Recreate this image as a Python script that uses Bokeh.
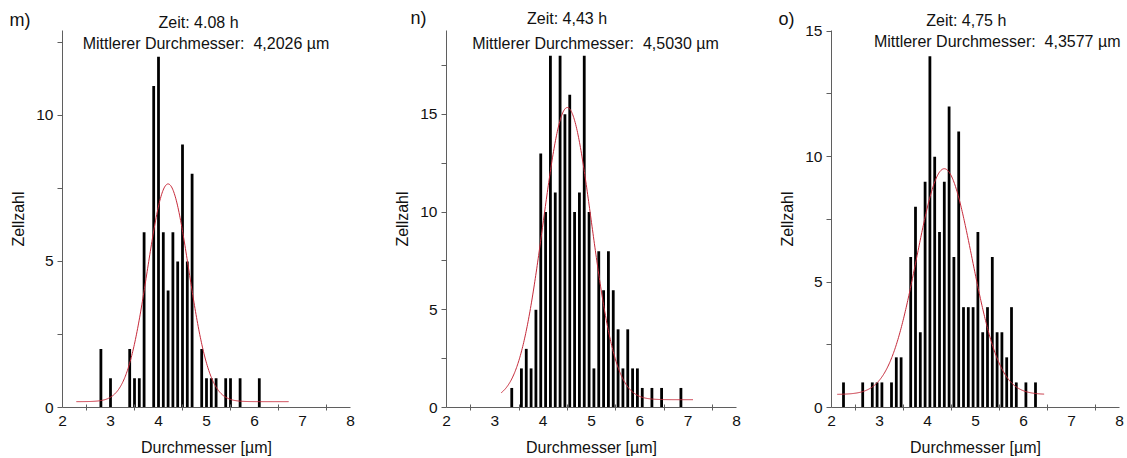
import numpy as np
from bokeh.plotting import figure
from bokeh.layouts import row
from bokeh.models import FixedTicker, Label, Range1d, ColumnDataSource
from bokeh.embed import file_html
from bokeh.resources import INLINE

# ---------------- data ----------------
panel_letters = ["m)", "n)", "o)"]
zeit_texts = ["Zeit: 4.08 h", "Zeit: 4,43 h", "Zeit: 4,75 h"]
mean_texts = ["Mittlerer Durchmesser:\u00a0 4,2026 \u00b5m",
              "Mittlerer Durchmesser:\u00a0 4,5030 \u00b5m",
              "Mittlerer Durchmesser:\u00a0 4,3577 \u00b5m"]
x_title = "Durchmesser [\u00b5m]"
y_title = "Zellzahl"

m_diam = [2.8, 3.0, 3.4, 3.5, 3.6, 3.7, 3.9, 4.0, 4.1, 4.2, 4.3, 4.4, 4.5, 4.6, 4.7,
          4.9, 5.0, 5.1, 5.2, 5.4, 5.5, 5.7, 6.1]
m_count = [2, 1, 2, 1, 1, 6, 11, 12, 6, 4, 6, 5, 9, 5, 8,
           2, 1, 1, 1, 1, 1, 1, 1]

n_diam = [3.35, 3.55, 3.65, 3.75, 3.85, 3.95, 4.05, 4.15, 4.25, 4.35, 4.45, 4.55, 4.65,
          4.75, 4.85, 4.95, 5.05, 5.15, 5.25, 5.35, 5.45, 5.55, 5.65, 5.75, 5.85, 5.95,
          6.05, 6.25, 6.45, 6.85]
n_count = [1, 2, 3, 2, 5, 13, 10, 18, 11, 18, 15, 16, 10,
           11, 18, 10, 2, 8, 6, 8, 6, 4, 2, 4, 2, 2,
           1, 1, 1, 1]

o_diam = [2.25, 2.65, 2.85, 2.95, 3.05, 3.25, 3.35, 3.45, 3.65, 3.75, 3.85, 3.95, 4.05,
          4.15, 4.25, 4.35, 4.45, 4.55, 4.65, 4.75, 4.85, 4.95, 5.05, 5.15, 5.25, 5.35,
          5.45, 5.55, 5.65, 5.75, 5.85, 6.05, 6.25]
o_count = [1, 1, 1, 1, 1, 1, 2, 2, 6, 8, 3, 9, 14,
           10, 7, 9, 12, 6, 11, 4, 4, 4, 7, 3, 4, 6,
           3, 3, 2, 4, 1, 1, 1]

# Gauss fit parameters: centre, sigma, amplitude, baseline, x start, x end
m_fit = [4.20, 0.43, 7.45, 0.20, 2.29, 6.71]
n_fit = [4.50, 0.50, 14.95, 0.40, 3.13, 7.10]
o_fit = [4.35, 0.575, 9.00, 0.52, 2.12, 6.43]

x_ticks = [2, 3, 4, 5, 6, 7, 8]
x_minor = [2.5, 3.5, 4.5, 5.5, 6.5, 7.5]
y_ticks = [[0, 5, 10], [0, 5, 10, 15], [0, 5, 10, 15]]
y_minor = [[2.5, 7.5, 12.5], [2.5, 7.5, 12.5, 17.5], [2.5, 7.5, 12.5]]
y_tops = [12.9, 19.29, 15.05]   # end of the y axis line

series = [(m_diam, m_count, m_fit), (n_diam, n_count, n_fit), (o_diam, o_count, o_fit)]

# ---------------- layout (page pixels) ----------------
FONT = "Liberation Sans"
H = 458
fig_left = [0, 370, 756]
fig_width = [370, 386, 371]
x2_px = [62, 446, 831]          # page x of diameter 2
x8_px = [350, 736, 1119]        # page x of diameter 8
y0_px = 407                     # page y of count 0
ytop_px = [30, 30, 29.5]        # page y of the top of the y axis line
# (zeit_x, zeit_y, mean_x, mean_y, letter_left_x, letter_y)
text_pos = [(198, 21.7, 205.5, 42.7, 9, 19.5),
            (566.5, 18.3, 595, 42.7, 410, 17.5),
            (965.8, 19.5, 996.7, 40.5, 778, 18.5)]

AXIS_COL = "#5f5f5f"
TEXT_COL = "#111111"
BAR_COL = "#000000"
FIT_COL = "#c62a3a"

figs = []
for i in range(3):
    diam, count, fit = series[i]
    top = y_tops[i]
    kx = (x8_px[i] - x2_px[i]) / 6.0
    ky = (y0_px - ytop_px[i]) / top
    fl = fig_left[i]
    W = fig_width[i]
    xr = Range1d(2 - (x2_px[i] - fl) / kx, 2 + (fl + W - x2_px[i]) / kx)
    yr = Range1d(-(H - y0_px) / ky, y0_px / ky)

    def xd(px, _x2=x2_px[i], _kx=kx):
        return 2 + (px - _x2) / _kx

    def yd(py, _ky=ky):
        return (y0_px - py) / _ky

    p = figure(output_backend="svg", toolbar_location=None, width=W, height=H,
               x_range=xr, y_range=yr, min_border=0,
               min_border_left=0, min_border_right=0, min_border_top=0, min_border_bottom=0)
    p.title.visible = False
    p.outline_line_color = None
    p.xgrid.visible = False
    p.ygrid.visible = False
    p.background_fill_color = "white"
    p.border_fill_color = "white"

    src = ColumnDataSource(dict(x=diam, top=count))
    p.vbar(x="x", top="top", bottom=0, width=0.058, source=src,
           fill_color=BAR_COL, line_color=None)

    c, s, a, b, x0, x1 = fit
    xs = np.linspace(x0, x1, 400)
    ys = b + a * np.exp(-(xs - c) ** 2 / (2 * s * s))
    p.line(xs, ys, line_color=FIT_COL, line_width=1)

    # x axis
    xa = p.xaxis[0]
    xa.fixed_location = 0
    xa.bounds = (2, 8)
    xa.ticker = FixedTicker(ticks=x_ticks, minor_ticks=x_minor)
    xa.major_tick_in = 0
    xa.major_tick_out = 0
    xa.minor_tick_in = 3
    xa.minor_tick_out = 3
    xa.axis_line_color = AXIS_COL
    xa.minor_tick_line_color = AXIS_COL
    xa.major_label_text_font = FONT
    xa.major_label_text_font_size = "15.5px"
    xa.major_label_text_color = TEXT_COL
    xa.major_label_standoff = 5
    xa.axis_label = x_title
    xa.axis_label_text_font = FONT
    xa.axis_label_text_font_size = "16px"
    xa.axis_label_text_font_style = "normal"
    xa.axis_label_text_color = TEXT_COL
    xa.axis_label_standoff = 10

    # y axis
    ya = p.yaxis[0]
    ya.fixed_location = 2
    ya.bounds = (0, top)
    ya.ticker = FixedTicker(ticks=y_ticks[i], minor_ticks=y_minor[i])
    ya.major_tick_in = 0
    ya.major_tick_out = 5
    ya.minor_tick_in = 0
    ya.minor_tick_out = 5
    ya.axis_line_color = AXIS_COL
    ya.major_tick_line_color = AXIS_COL
    ya.minor_tick_line_color = AXIS_COL
    ya.major_label_text_font = FONT
    ya.major_label_text_font_size = "15.5px"
    ya.major_label_text_color = TEXT_COL
    ya.major_label_standoff = 4
    ya.axis_label = y_title
    ya.axis_label_text_font = FONT
    ya.axis_label_text_font_size = "16px"
    ya.axis_label_text_font_style = "normal"
    ya.axis_label_text_color = TEXT_COL
    ya.axis_label_standoff = 6

    zx, zy, mx, my, lx, ly = text_pos[i]
    p.add_layout(Label(x=xd(zx), y=yd(zy), text=zeit_texts[i], text_align="center",
                       text_baseline="middle", text_font=FONT, text_font_size="16px",
                       text_color=TEXT_COL))
    p.add_layout(Label(x=xd(mx), y=yd(my), text=mean_texts[i], text_align="center",
                       text_baseline="middle", text_font=FONT, text_font_size="16px",
                       text_color=TEXT_COL))
    p.add_layout(Label(x=xd(lx), y=yd(ly), text=panel_letters[i], text_align="left",
                       text_baseline="middle", text_font=FONT, text_font_size="18px",
                       text_color=TEXT_COL))
    figs.append(p)

layout = row(*figs, spacing=0)
open("out.html", "w").write(file_html(layout, INLINE))
